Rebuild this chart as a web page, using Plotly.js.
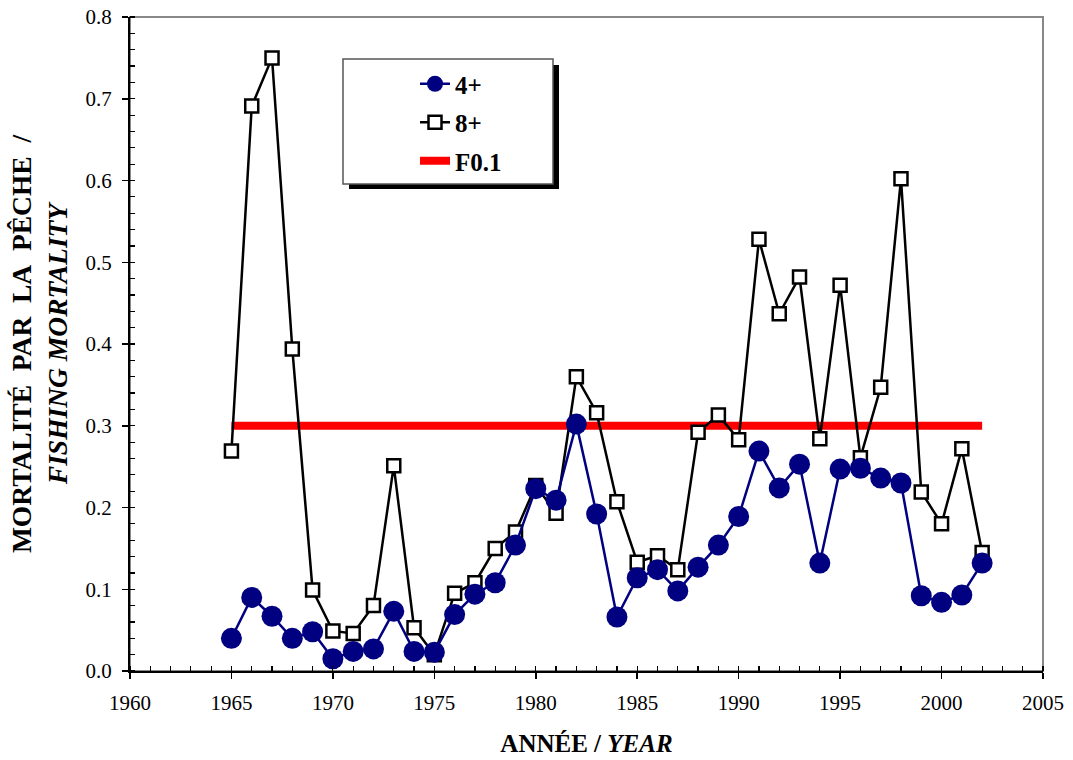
<!DOCTYPE html>
<html><head><meta charset="utf-8">
<script src="https://cdn.plot.ly/plotly-3.0.1.min.js"></script>
<style>html,body{margin:0;padding:0;background:#fff;}#chart{width:1073px;height:760px;}</style>
</head><body><div id="chart"></div>
<script>
const years = [1965,1966,1967,1968,1969,1970,1971,1972,1973,1974,1975,1976,1977,1978,1979,1980,1981,1982,1983,1984,1985,1986,1987,1988,1989,1990,1991,1992,1993,1994,1995,1996,1997,1998,1999,2000,2001,2002];
const f4plus = [0.040,0.090,0.067,0.040,0.048,0.015,0.024,0.027,0.073,0.024,0.023,0.069,0.094,0.108,0.154,0.223,0.209,0.302,0.192,0.066,0.114,0.124,0.098,0.127,0.154,0.189,0.269,0.224,0.253,0.132,0.247,0.248,0.236,0.230,0.092,0.084,0.093,0.132];
const f8plus = [0.269,0.691,0.750,0.394,0.099,0.049,0.046,0.080,0.251,0.053,0.020,0.095,0.108,0.150,0.170,0.227,0.193,0.360,0.316,0.207,0.133,0.141,0.124,0.292,0.313,0.283,0.528,0.437,0.482,0.284,0.472,0.261,0.347,0.602,0.219,0.180,0.272,0.145];
const f01Years = [1965, 2002];
const f01Value = [0.3, 0.3];
const seriesNames = ['4+', '8+', 'F0.1'];
const xTitle = '<b>ANNÉE / <i>YEAR</i></b>';
const yTitle = '<b>MORTALITÉ&nbsp; PAR&nbsp; LA&nbsp; PÊCHE&nbsp; /</b><br><b><i>FISHING MORTALITY</i></b>';

const FONT = '"Liberation Serif", "Times New Roman", Times, serif';
const L = 130, R = 1043, T = 17, B = 671;
const px = x => (x - L) / (R - L);
const py = y => (B - y) / (B - T);

const tr4 = {x: years, y: f4plus, name: seriesNames[0], type: 'scatter', mode: 'lines+markers',
   legendgroup: 'a', legendrank: 1,
   line: {color: '#000080', width: 2.5},
   marker: {symbol: 'circle', size: 21, color: '#000080'}};
const tr8 = {x: years, y: f8plus, name: seriesNames[1], type: 'scatter', mode: 'lines+markers',
   legendgroup: 'b', legendrank: 2,
   line: {color: '#000000', width: 2.5},
   marker: {symbol: 'square', size: 13, color: '#ffffff', line: {color: '#000000', width: 2.5}}};
const trF = {x: f01Years, y: f01Value, name: seriesNames[2], type: 'scatter', mode: 'lines',
   legendgroup: 'c', legendrank: 3,
   line: {color: '#ff0000', width: 8}};
const data = [trF, tr8, tr4];

const layout = {
  width: 1073, height: 760,
  margin: {l: L, r: 1073 - R, t: T, b: 760 - B},
  paper_bgcolor: '#ffffff', plot_bgcolor: '#ffffff',
  font: {family: FONT, color: '#000000', size: 21},
  showlegend: true,
  legend: {
    x: px(415), y: py(61), xanchor: 'left', yanchor: 'top',
    bgcolor: 'rgba(0,0,0,0)', borderwidth: 0,
    font: {family: FONT, size: 25, color: '#000', weight: 'bold'},
    tracegroupgap: 3
  },
  xaxis: {
    range: [1960, 2005], dtick: 5, tick0: 1960,
    showgrid: false, zeroline: false,
    showline: true, linecolor: '#000', linewidth: 2,
    ticks: 'outside', ticklen: 6, tickwidth: 1.5, tickcolor: '#000',
    ticklabelstandoff: 6,
    tickfont: {family: FONT, size: 21, color: '#000'},
    minor: {dtick: 1, ticks: 'inside', ticklen: 5, tickwidth: 1.2, tickcolor: '#000'},
    title: {text: xTitle, font: {family: FONT, size: 25, color: '#000'}, standoff: 20}
  },
  yaxis: {
    range: [0, 0.8], dtick: 0.1, tick0: 0, tickformat: '.1f',
    showgrid: false, zeroline: false,
    showline: true, linecolor: '#000', linewidth: 2,
    ticks: 'outside', ticklen: 6, tickwidth: 1.5, tickcolor: '#000',
    ticklabelstandoff: 6,
    tickfont: {family: FONT, size: 21, color: '#000'},
    minor: {dtick: 0.02, ticks: 'inside', ticklen: 5, tickwidth: 1.2, tickcolor: '#000'},
    title: {text: yTitle, font: {family: FONT, size: 27.5, color: '#000'}, standoff: 10}
  },
  shapes: [
    {type: 'rect', xref: 'paper', yref: 'paper', x0: 0, x1: 1, y0: 0, y1: 1,
     line: {color: '#888888', width: 2}, layer: 'below'},
    {type: 'rect', xref: 'paper', yref: 'paper', x0: px(349), x1: px(559), y0: py(189), y1: py(65),
     fillcolor: '#000', line: {width: 0}, layer: 'below'},
    {type: 'rect', xref: 'paper', yref: 'paper', x0: px(343), x1: px(553), y0: py(184), y1: py(59),
     fillcolor: '#fff', line: {color: '#555', width: 1.5}, layer: 'below'}
  ]
};

Plotly.newPlot('chart', data, layout, {displayModeBar: false, staticPlot: true});
</script>
</body></html>
